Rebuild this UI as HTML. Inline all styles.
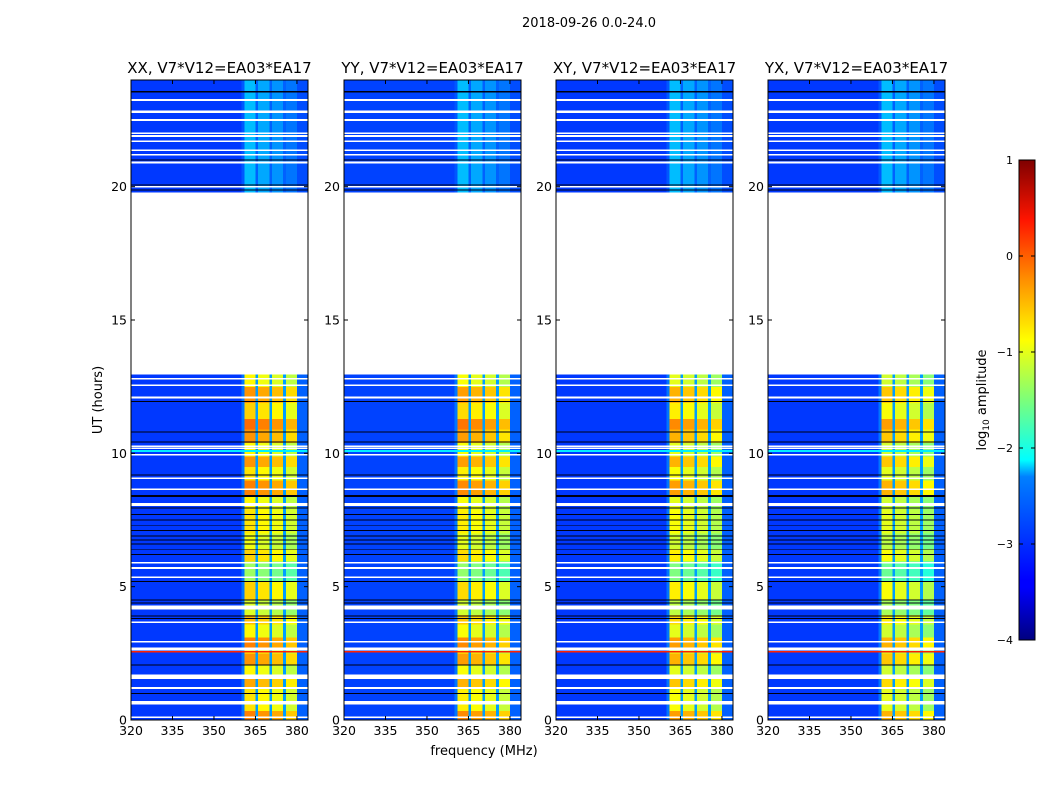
<!DOCTYPE html>
<html><head><meta charset="utf-8"><style>
body{margin:0;background:#fff;font-family:"Liberation Sans","DejaVu Sans",sans-serif}
svg text{font-family:"DejaVu Sans","Liberation Sans",sans-serif}
</style></head><body>
<svg id="fig" width="1050" height="800" xmlns="http://www.w3.org/2000/svg">
<defs><linearGradient id="jet" x1="0" y1="1" x2="0" y2="0">
<stop offset="0" stop-color="#00007f"/><stop offset="0.11" stop-color="#0000ff"/><stop offset="0.125" stop-color="#0000ff"/>
<stop offset="0.34" stop-color="#0080ff"/><stop offset="0.375" stop-color="#00ffff"/><stop offset="0.5" stop-color="#7cff7a"/>
<stop offset="0.625" stop-color="#ffff00"/><stop offset="0.75" stop-color="#ff9000"/><stop offset="0.875" stop-color="#ff1500"/><stop offset="1" stop-color="#7f0000"/>
</linearGradient></defs>
<text x="589" y="27" font-size="13" text-anchor="middle">2018-09-26 0.0-24.0</text>
<text x="484" y="755" font-size="13" text-anchor="middle">frequency (MHz)</text>
<text transform="translate(102,400) rotate(-90)" font-size="13" text-anchor="middle">UT (hours)</text>
<g id="panels"></g>
<g id="cbar">
<rect x="1019" y="160" width="16" height="480" fill="url(#jet)" stroke="#000" stroke-width="1"/>
</g>
<text transform="translate(986,400) rotate(-90)" font-size="13" text-anchor="middle">log<tspan font-size="9" dy="3">10</tspan><tspan dy="-3"> amplitude</tspan></text>
</svg>
<script>
const panelTitles = ["XX, V7*V12=EA03*EA17","YY, V7*V12=EA03*EA17","XY, V7*V12=EA03*EA17","YX, V7*V12=EA03*EA17"];
const panelBandOffset = [0, -0.05, -0.15, -0.25];
const panelBgOffset = [0, 0.05, 0, 0];
const xTicks = [320,335,350,365,380];
const yTicks = [0,5,10,15,20];
const cbarTicks = [1,0,-1,-2,-3,-4];
// 64 one-MHz channels 320..383: 0=background,4=pre-band rise,1=band,2=notch,3=upper edge
const channelType = [0,0,0,0,0,0,0,0,0,0,0,0,0,0,0,0,0,0,0,0,0,0,0,0,0,0,0,0,0,0,0,0,0,0,0,0,0,0,0,0,
 4,1,1,1,1,2,1,1,1,1,2,1,1,1,1,2,1,1,1,1,3,3,3,3];
// relative gain of each of the four sub-bands
const subBandGain = [0.15, 0.05, -0.05, -0.2];
// [t0, t1, band level]
const activeSegments = [[0,0.35,-0.4],[0.35,1.2,-0.9],[1.2,1.55,-0.6],[1.55,2.05,-1.0],[2.05,2.5,-0.5],[2.5,2.62,-1.0],[2.62,3.1,-0.4],[3.1,3.6,-1.0],[3.6,3.95,-0.7],[3.95,4.5,-1.2],[4.5,5.2,-0.8],[5.2,5.95,-1.5],[5.95,6.4,-0.8],[6.4,7.0,-1.1],[7.0,7.9,-0.9],[7.9,8.4,-1.0],[8.4,9.0,-0.4],[9.0,9.5,-0.9],[9.5,9.9,-0.5],[9.9,10.4,-1.0],[10.4,10.9,-0.5],[10.9,11.3,-0.3],[11.3,11.9,-0.8],[11.9,12.5,-0.5],[12.5,12.95,-1.0]];
const quietSegments = [[19.8,24,-2.6]];
// [t0, t1, kind] kind: w=white flag, k=dark flag, r=red line, c=cyan line
const flags = [[12.77,12.83,'w'],[12.52,12.58,'w'],[12.05,12.13,'w'],[11.92,11.96,'k'],[10.78,10.82,'k'],[10.41,10.45,'k'],[10.24,10.3,'w'],[10.17,10.22,'w'],[10.05,10.13,'c'],[9.91,9.97,'w'],[9.16,9.2,'k'],[9.04,9.1,'w'],[8.63,8.69,'w'],[8.37,8.43,'k'],[8.03,8.13,'w'],[7.93,7.97,'k'],[7.69,7.72,'k'],[7.49,7.52,'k'],[7.29,7.32,'k'],[7.09,7.13,'k'],[6.89,6.92,'k'],[6.74,6.77,'k'],[6.59,6.62,'k'],[6.39,6.42,'k'],[6.19,6.22,'k'],[5.87,5.93,'w'],[5.66,5.74,'w'],[5.32,5.38,'w'],[5.18,5.22,'k'],[4.48,4.52,'k'],[4.36,4.4,'k'],[4.14,4.3,'w'],[3.88,3.92,'k'],[3.78,3.82,'k'],[3.64,3.7,'w'],[2.9,2.96,'w'],[2.6,2.72,'w'],[2.53,2.58,'r'],[2.04,2.08,'k'],[1.53,1.7,'w'],[1.17,1.23,'w'],[0.98,1.02,'k'],[0.58,0.72,'w'],[0.07,0.13,'w'],
[23.53,23.59,'k'],[23.22,23.28,'w'],[22.76,22.86,'w'],[22.47,22.53,'w'],[21.97,22.03,'w'],[21.87,21.93,'w'],[21.67,21.73,'w'],[21.34,21.4,'w'],[21.17,21.23,'w'],[20.98,21.02,'k'],[20.86,20.94,'w'],[20.04,20.08,'k'],[19.96,20.02,'w'],[19.85,19.89,'k']];

const NS='http://www.w3.org/2000/svg';
function mk(tag,attrs,parent){const e=document.createElementNS(NS,tag);for(const k in attrs)e.setAttribute(k,attrs[k]);parent.appendChild(e);return e;}
function jet(v){let x=(v+4)/5;x=Math.max(0,Math.min(1,x));
 const r=Math.max(0,Math.min(1,Math.min(4*x-1.5,-4*x+4.5)));
 const g=Math.max(0,Math.min(1,Math.min(4*x-0.5,-4*x+3.5)));
 const b=Math.max(0,Math.min(1,Math.min(4*x+0.5,-4*x+2.5)));
 return `rgb(${Math.round(r*255)},${Math.round(g*255)},${Math.round(b*255)})`;}
const panelX=[131,344,556,768], PW=177, PT=80, PB=720;
const F0=320,F1=384,T0=0,T1=24;
const root=document.getElementById('panels');
panelX.forEach((px,p)=>{
 const xs=f=>px+(f-F0)/(F1-F0)*PW;
 const ys=t=>PB-(t-T0)/(T1-T0)*(PB-PT);
 const g=mk('g',{},root);
 
 
 const hm=mk('g',{'shape-rendering':'crispEdges'},g);
 
 
 const cell=(c,t0,t1,val)=>{const r=mk('rect',{x:xs(F0+c).toFixed(2),y:ys(t1).toFixed(2),width:(xs(F0+c+1)-xs(F0+c)+0.4).toFixed(2),height:(ys(t0)-ys(t1)+0.3).toFixed(2),fill:jet(val)},hm);
  
  };
 const bg=-3.1+panelBgOffset[p];
 const subIdx=c=>Math.min(3,Math.floor((c-41)/5));
 activeSegments.forEach(([t0,t1,lv])=>{
  channelType.forEach((ty,c)=>{
   let v=bg; if(ty===1)v=lv+panelBandOffset[p]+subBandGain[subIdx(c)]; else if(ty===2)v=-2.6; else if(ty===3)v=-2.9; else if(ty===4)v=-2.8;
   cell(c,t0,t1,v);});});
 quietSegments.forEach(([t0,t1,lv])=>{
  channelType.forEach((ty,c)=>{
   let v=bg; if(ty===1)v=lv+subBandGain[subIdx(c)]; else if(ty===2)v=-2.9; else if(ty===3)v=-3.0; else if(ty===4)v=-2.95;
   cell(c,t0,t1,v);});});
 flags.forEach(([t0,t1,k])=>{
  const col=k==='w'?'#ffffff':k==='k'?'#000010':k==='r'?'#ff2000':jet(-2.2);
  const r=mk('rect',{x:px,y:ys(t1).toFixed(2),width:PW,height:(ys(t0)-ys(t1)).toFixed(2),fill:col},hm);
  
  });
 const fr=mk('rect',{x:px,y:PT,width:PW,height:PB-PT,fill:'none',stroke:'#000','stroke-width':1},g);
 
 
 const tt=mk('text',{x:px+PW/2,y:PT-7,'font-size':15,'text-anchor':'middle'},g);tt.textContent=panelTitles[p];
 
 
 xTicks.forEach(f=>{const x=xs(f);
  mk('line',{x1:x,x2:x,y1:PB,y2:PB-4,stroke:'#000'},g);mk('line',{x1:x,x2:x,y1:PT,y2:PT+4,stroke:'#000'},g);
  const t=mk('text',{x:x,y:PB+15,'font-size':12.5,'text-anchor':'middle'},g);t.textContent=f;
  
  });
 yTicks.forEach(v=>{const y=ys(v);
  mk('line',{x1:px,x2:px+4,y1:y,y2:y,stroke:'#000'},g);mk('line',{x1:px+PW,x2:px+PW-4,y1:y,y2:y,stroke:'#000'},g);
  const t=mk('text',{x:px-4,y:y+4.5,'font-size':12.5,'text-anchor':'end'},g);t.textContent=v;
  
  });
});
const cb=document.getElementById('cbar');
cbarTicks.forEach(v=>{const y=640-(v+4)/5*480;
 mk('line',{x1:1019,x2:1023,y1:y,y2:y,stroke:'#000'},cb);mk('line',{x1:1035,x2:1031,y1:y,y2:y,stroke:'#000'},cb);
 const t=mk('text',{x:1013,y:y+4,'font-size':11,'text-anchor':'end'},cb);t.textContent=v<0?'\u2212'+(-v):v;
 
 });
</script>
</body></html>
